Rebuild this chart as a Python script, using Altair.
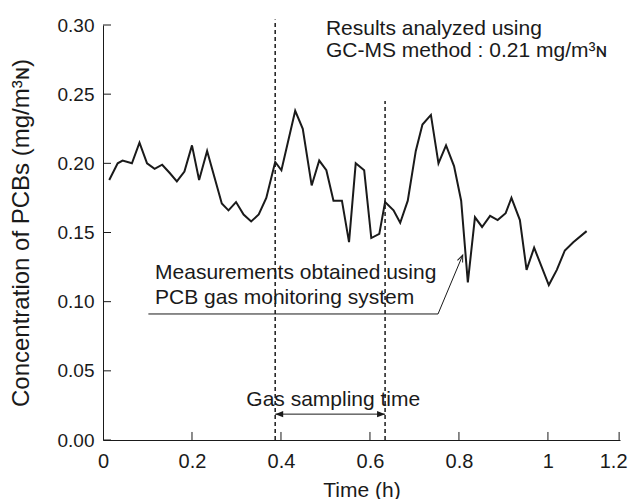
import altair as alt
import pandas as pd

# ---- data ----
time_h = [0.014, 0.033, 0.044, 0.065, 0.082, 0.099, 0.116, 0.133, 0.150, 0.166,
          0.183, 0.200, 0.216, 0.234, 0.267, 0.282, 0.299, 0.316, 0.333, 0.350,
          0.367, 0.387, 0.401, 0.432, 0.449, 0.469, 0.486, 0.502, 0.518, 0.537,
          0.553, 0.568, 0.587, 0.603, 0.621, 0.634, 0.653, 0.668, 0.685, 0.703,
          0.718, 0.737, 0.754, 0.771, 0.789, 0.805, 0.820, 0.836, 0.852, 0.870,
          0.887, 0.905, 0.918, 0.937, 0.952, 0.969, 1.002, 1.020, 1.038, 1.057,
          1.087]
pcb = [0.188, 0.200, 0.202, 0.200, 0.215, 0.200, 0.196, 0.199, 0.193, 0.187,
       0.194, 0.213, 0.188, 0.209, 0.171, 0.166, 0.172, 0.163, 0.158, 0.163,
       0.175, 0.201, 0.195, 0.238, 0.225, 0.184, 0.202, 0.195, 0.173, 0.173,
       0.143, 0.200, 0.195, 0.146, 0.149, 0.172, 0.166, 0.157, 0.173, 0.209,
       0.228, 0.235, 0.200, 0.213, 0.198, 0.173, 0.114, 0.161, 0.154, 0.162,
       0.159, 0.164, 0.175, 0.159, 0.123, 0.139, 0.112, 0.123, 0.137, 0.143,
       0.151]

x_tick_values = [0, 0.2, 0.4, 0.6, 0.8, 1.0, 1.16]
y_tick_values = [0.0, 0.05, 0.10, 0.15, 0.20, 0.25, 0.30]

sampling_start = 0.387
sampling_end = 0.634
dashed_top = [0.304, 0.245]

top_note = ["Results analyzed using", "GC-MS method : 0.21 mg/m³ɴ"]
top_note_t = [0.501, 0.501]
top_note_v = [0.297, 0.281]

mid_note = ["Measurements obtained using", "PCB gas monitoring system"]
mid_note_t = [0.117, 0.117]
mid_note_v = [0.1207, 0.1027]

gas_label = "Gas sampling time"
gas_label_t = 0.5175
gas_label_v = 0.0289
gas_arrow_v = 0.0187

leader_t = [0.102, 0.753, 0.8085]
leader_v = [0.0911, 0.0911, 0.1337]

FONT = "Liberation Sans"
INK = "#1a1a1a"
FS = 21

xscale = alt.Scale(domain=[0, 1.162], nice=False, zero=False)
yscale = alt.Scale(domain=[0, 0.30], nice=False, zero=True)

series = pd.DataFrame({"t": time_h, "v": pcb})

line = alt.Chart(series).mark_line(color=INK, strokeWidth=2, strokeJoin="miter").encode(
    x=alt.X("t:Q", scale=xscale, title="Time (h)",
            axis=alt.Axis(values=x_tick_values, ticks=False, tickSize=0, grid=False,
                          labelExpr="datum.value > 1.1 ? '1.2' : format(datum.value, '~g')",
                          labelOffset={"condition": {"test": "datum.value > 1.1", "value": -6},
                                       "value": 0},
                          labelPadding=11, titlePadding=8, labelFlush=False,
                          labelFontSize=20, titleFontSize=21)),
    y=alt.Y("v:Q", scale=yscale, title="Concentration of PCBs (mg/m³ɴ)",
            axis=alt.Axis(values=y_tick_values, format=".2f", ticks=False, tickSize=0,
                          grid=False, labelPadding=9, titleX=-82, titleBaseline="middle",
                          labelFontSize=19, titleFontSize=24)),
)

# inward tick marks
xt = pd.DataFrame({"t": x_tick_values[1:], "v": [0.0] * 6, "v2": [0.0058] * 6})
x_ticks = alt.Chart(xt).mark_rule(color=INK, strokeWidth=1).encode(
    x="t:Q", y="v:Q", y2="v2:Q")
yt = pd.DataFrame({"t": [0.0] * 7, "t2": [0.018] * 7, "v": y_tick_values})
y_ticks = alt.Chart(yt).mark_rule(color=INK, strokeWidth=1).encode(
    x="t:Q", x2="t2:Q", y="v:Q")

dash_df = pd.DataFrame({"t": [sampling_start, sampling_end], "v": [0.0, 0.0], "v2": dashed_top})
dashed = alt.Chart(dash_df).mark_rule(color=INK, strokeWidth=1.5, strokeDash=[4, 3]).encode(
    x="t:Q", y="v:Q", y2="v2:Q")

# gas sampling double arrow
arr_df = pd.DataFrame({"t": [sampling_start], "t2": [sampling_end], "v": [gas_arrow_v]})
arrow_line = alt.Chart(arr_df).mark_rule(color=INK, strokeWidth=1).encode(
    x="t:Q", x2="t2:Q", y="v:Q")
head_l = alt.Chart(pd.DataFrame({"t": [sampling_start], "v": [gas_arrow_v]})).mark_point(
    shape="M0,0L1,-0.4L1,0.4Z", filled=True, size=256, color=INK, opacity=1).encode(
    x="t:Q", y="v:Q")
head_r = alt.Chart(pd.DataFrame({"t": [sampling_end], "v": [gas_arrow_v]})).mark_point(
    shape="M0,0L-1,-0.4L-1,0.4Z", filled=True, size=256, color=INK, opacity=1).encode(
    x="t:Q", y="v:Q")

gas_text = alt.Chart(pd.DataFrame({"t": [gas_label_t], "v": [gas_label_v], "label": [gas_label]})).mark_text(
    font=FONT, fontSize=FS, color=INK, align="center", baseline="middle").encode(
    x="t:Q", y="v:Q", text="label:N")

top_text = alt.Chart(pd.DataFrame({"t": top_note_t, "v": top_note_v, "label": top_note})).mark_text(
    font=FONT, fontSize=FS, color=INK, align="left", baseline="middle").encode(
    x="t:Q", y="v:Q", text="label:N")

mid_text = alt.Chart(pd.DataFrame({"t": mid_note_t, "v": mid_note_v, "label": mid_note})).mark_text(
    font=FONT, fontSize=FS, color=INK, align="left", baseline="middle").encode(
    x="t:Q", y="v:Q", text="label:N")

leader_df = pd.DataFrame({"t": leader_t, "v": leader_v, "o": [0, 1, 2]})
leader = alt.Chart(leader_df).mark_line(color=INK, strokeWidth=1).encode(
    x="t:Q", y="v:Q", order="o:Q")
leader_head = alt.Chart(pd.DataFrame({"t": [leader_t[-1]], "v": [leader_v[-1]]})).mark_point(
    shape="M-0.4,1L0,0L0.4,1", filled=False, size=196, color=INK, strokeWidth=1,
    angle=22.7, opacity=1).encode(x="t:Q", y="v:Q")

chart = alt.layer(
    line, x_ticks, y_ticks, dashed, arrow_line, head_l, head_r, gas_text,
    top_text, mid_text, leader, leader_head
).properties(
    width=517, height=415,
    autosize=alt.AutoSizeParams(type="none"),
    padding={"left": 95, "top": 17, "right": 8, "bottom": 59},
).configure_view(stroke=None).configure_axis(
    labelFont=FONT, titleFont=FONT,
    labelColor=INK, titleColor=INK, titleFontWeight="normal",
    domainColor=INK, domainWidth=1,
)

chart.save("out.html", embed_options={"renderer": "svg", "actions": False})
